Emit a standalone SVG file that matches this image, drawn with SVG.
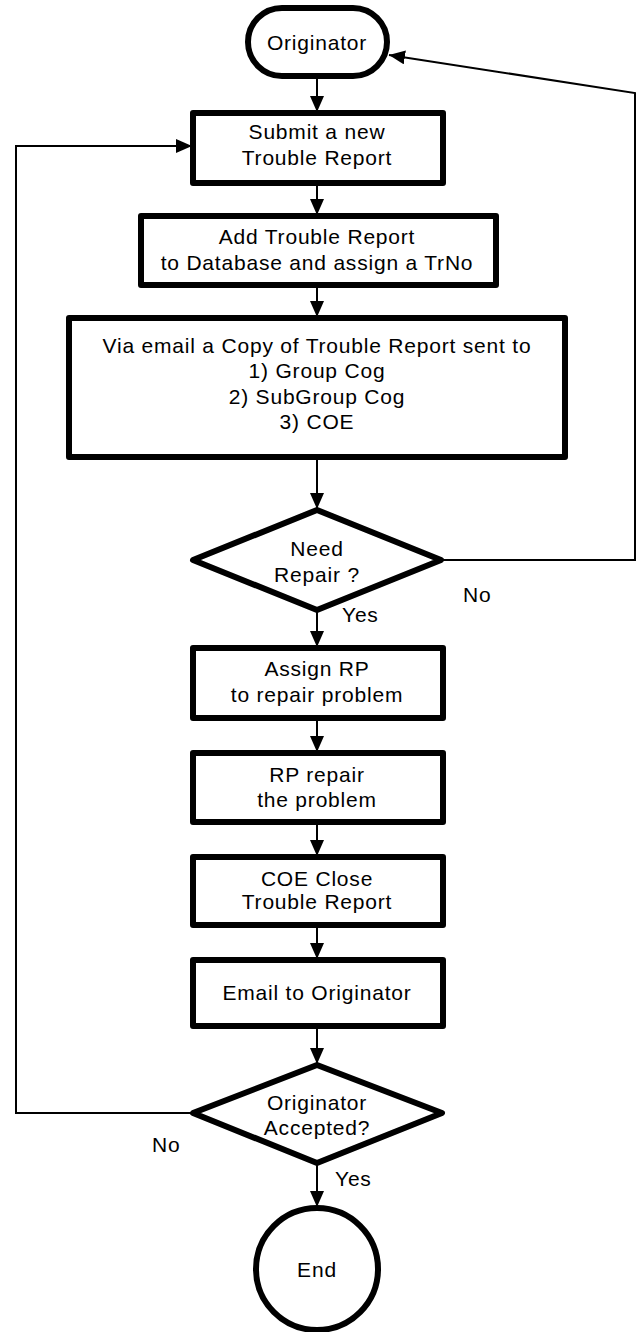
<svg xmlns="http://www.w3.org/2000/svg" width="638" height="1332" viewBox="0 0 638 1332">
<style>
.n{fill:#fff;stroke:#000;stroke-width:6;stroke-linejoin:round}
.t{font-family:"Liberation Sans",Arial,sans-serif;font-size:21px;letter-spacing:0.8px;fill:#000;text-anchor:middle}
.l{font-family:"Liberation Sans",Arial,sans-serif;font-size:21px;letter-spacing:0.8px;fill:#000}
.c{fill:none;stroke:#000;stroke-width:2}
</style>
<defs>
<marker id="ah" markerUnits="userSpaceOnUse" markerWidth="16" markerHeight="14" refX="16" refY="7" orient="auto">
<path d="M0,0 L16,7 L0,14 Z" fill="#000"/>
</marker>
</defs>
<rect width="638" height="1332" fill="#fff"/>
<g id="connectors">
<line class="c" x1="317" y1="77" x2="317" y2="112" marker-end="url(#ah)"/>
<line class="c" x1="317" y1="183" x2="317" y2="215" marker-end="url(#ah)"/>
<line class="c" x1="317" y1="285" x2="317" y2="317" marker-end="url(#ah)"/>
<line class="c" x1="317" y1="457" x2="317" y2="509" marker-end="url(#ah)"/>
<polyline class="c" points="441,560 635,560 635,93 389,55" marker-end="url(#ah)"/>
<line class="c" x1="317" y1="610" x2="317" y2="647" marker-end="url(#ah)"/>
<line class="c" x1="317" y1="718" x2="317" y2="752" marker-end="url(#ah)"/>
<line class="c" x1="317" y1="822" x2="317" y2="856" marker-end="url(#ah)"/>
<line class="c" x1="317" y1="925" x2="317" y2="959" marker-end="url(#ah)"/>
<line class="c" x1="317" y1="1026" x2="317" y2="1064" marker-end="url(#ah)"/>
<polyline class="c" points="193,1113 16,1113 16,146 192,146" marker-end="url(#ah)"/>
<line class="c" x1="317" y1="1163" x2="317" y2="1207" marker-end="url(#ah)"/>
<text class="l" x="463" y="602">No</text>
<text class="l" x="342" y="622">Yes</text>
<text class="l" x="152" y="1152">No</text>
<text class="l" x="335" y="1186">Yes</text>
</g>
<g id="originator">
<rect class="n" x="248" y="8" width="139" height="68" rx="34"/>
<text class="t" x="317" y="50">Originator</text>
</g>
<g id="submit">
<rect class="n" x="193" y="113" width="250" height="70"/>
<text class="t" x="317" y="139">Submit a new</text>
<text class="t" x="317" y="165">Trouble Report</text>
</g>
<g id="add">
<rect class="n" x="141" y="216" width="355" height="69"/>
<text class="t" x="317" y="244">Add Trouble Report</text>
<text class="t" x="317" y="270">to Database and assign a TrNo</text>
</g>
<g id="email-copy">
<rect class="n" x="69" y="318" width="496" height="139"/>
<text class="t" x="317" y="353">Via email a Copy of Trouble Report sent to</text>
<text class="t" x="317" y="378">1) Group Cog</text>
<text class="t" x="317" y="404">2) SubGroup Cog</text>
<text class="t" x="317" y="429">3) COE</text>
</g>
<g id="need-repair">
<polygon class="n" points="317,510 441,560 317,610 193,560"/>
<text class="t" x="317" y="556">Need</text>
<text class="t" x="317" y="582">Repair ?</text>
</g>
<g id="assign">
<rect class="n" x="193" y="648" width="250" height="70"/>
<text class="t" x="317" y="676">Assign RP</text>
<text class="t" x="317" y="702">to repair problem</text>
</g>
<g id="repair">
<rect class="n" x="193" y="753" width="250" height="69"/>
<text class="t" x="317" y="782">RP repair</text>
<text class="t" x="317" y="807">the problem</text>
</g>
<g id="close">
<rect class="n" x="193" y="857" width="250" height="68"/>
<text class="t" x="317" y="886">COE Close</text>
<text class="t" x="317" y="909">Trouble Report</text>
</g>
<g id="email-originator">
<rect class="n" x="193" y="960" width="250" height="66"/>
<text class="t" x="317" y="1000">Email to Originator</text>
</g>
<g id="accepted">
<polygon class="n" points="317,1065 442,1113 317,1163 193,1113"/>
<text class="t" x="317" y="1110">Originator</text>
<text class="t" x="317" y="1135">Accepted?</text>
</g>
<g id="end">
<circle class="n" cx="317" cy="1269" r="61"/>
<text class="t" x="317" y="1277">End</text>
</g>
</svg>
